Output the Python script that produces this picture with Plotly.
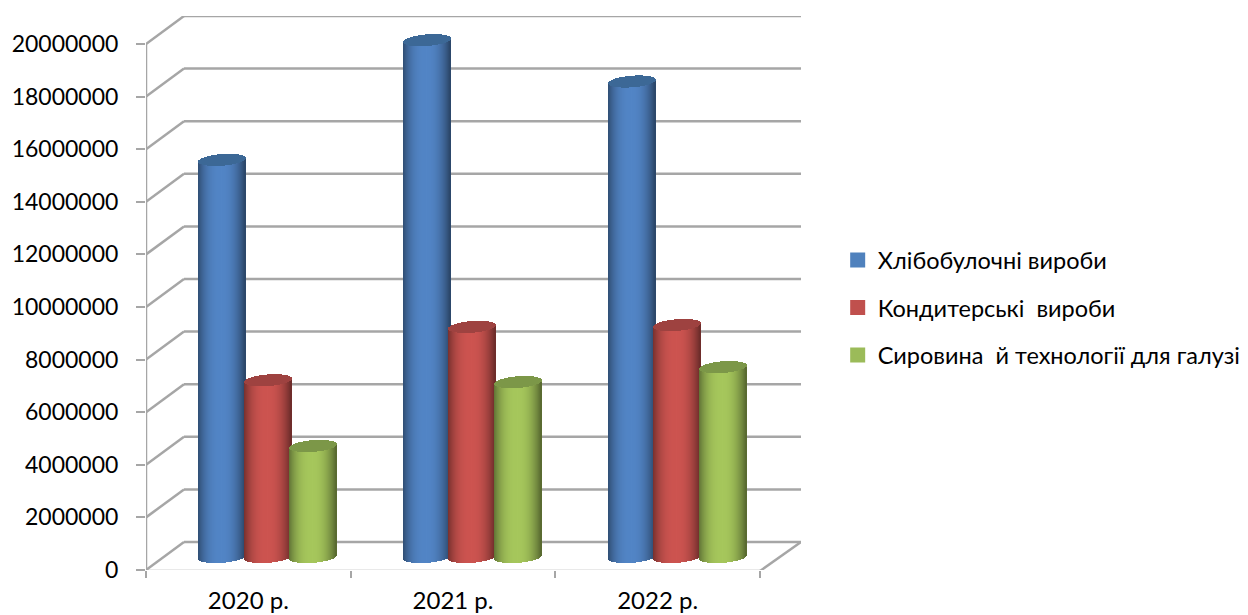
import math
import plotly.graph_objects as go

categories = ["2020 р.", "2021 р.", "2022 р."]
series_names = ["Хлібобулочні вироби", "Кондитерські  вироби", "Сировина  й технології для галузі"]
bakery = [15100000, 19650000, 18080000]
confectionery = [6720000, 8750000, 8820000]
raw_materials = [4220000, 6650000, 7220000]
y_ticks = list(range(0, 20000001, 2000000))

series_values = [bakery, confectionery, raw_materials]
swatches = ["#4f81bd", "#c0504d", "#9bbb59"]
centers = [(82, 133, 198), (205, 84, 80), (166, 199, 92)]
caps = [(60, 104, 150), (158, 66, 64), (124, 151, 72)]

# Geometry of the fake 3D box, in pixels of the 1248x615 page
LEFT, RIGHT, TOP, BOTTOM = 146, 801, 16, 570
PX_PER_CAT = 204.67
PX_PER_UNIT = 526 / 20000000
DX = 38 / PX_PER_CAT          # depth offset in x units
DY = 28 / PX_PER_UNIT         # depth offset in y units
dy = 1 / PX_PER_UNIT
dx = 1 / PX_PER_CAT
X_MAX = (RIGHT - LEFT) / PX_PER_CAT
Y_MAX = (BOTTOM - TOP) / PX_PER_UNIT

GRID = "#a6a6a6"
fig = go.Figure()
N = 47
RAD = 23.5
SHIFT = 0.2585
STEP = 0.2225
BASE = 13 * dy
ELL = 5.8 * dy
TILT = 1.8 * dy


def shade(rgb, u):
    k = 1 - 0.42 * abs(u) ** 2.6 if u < 0 else 1 - 0.48 * abs(u) ** 2.2
    return "rgb(%d,%d,%d)" % tuple(int(c * k) for c in rgb)


for s, vals in enumerate(series_values):
    xs, ys, bases, cols = [], [], [], []
    xc, yc, bc, cc = [], [], [], []
    for k, v in enumerate(vals):
        cx = k + SHIFT + RAD * dx + s * STEP
        for i in range(N):
            u = -1 + (2 * i + 1) / N
            arc = ELL * math.sqrt(1 - u * u)
            lift = TILT * u
            low0 = BASE + lift - arc
            low1 = BASE + v + lift - arc
            up1 = BASE + v + lift + arc
            x = cx + u * RAD * dx
            xs.append(x); bases.append(low0); ys.append(low1 - low0); cols.append(shade(centers[s], u))
            xc.append(x); bc.append(low1); yc.append(up1 - low1)
            cc.append("rgb(%d,%d,%d)" % caps[s])
    w = 1.5 * dx
    fig.add_trace(go.Bar(x=xs, y=ys, base=bases, width=w, showlegend=False, hoverinfo="skip",
                         marker=dict(color=cols, line=dict(width=0))))
    fig.add_trace(go.Bar(x=xc, y=yc, base=bc, width=w, showlegend=False, hoverinfo="skip",
                         marker=dict(color=cc, line=dict(width=0))))

for name, col in zip(series_names, swatches):
    fig.add_trace(go.Scatter(x=[None], y=[None], mode="markers", name=name, legendgroup=name,
                             marker=dict(symbol="square", size=15, color=col)))

shapes = []


def seg(x0, y0, x1, y1):
    shapes.append(dict(type="line", xref="x", yref="y", x0=x0, y0=y0, x1=x1, y1=y1,
                       layer="below", line=dict(color=GRID, width=2.5)))


for t in y_ticks:
    seg(0, t, DX, t + DY)
    seg(DX, t + DY, X_MAX, t + DY)
seg(0, 0, 0, y_ticks[-1])
seg(0, -1 * dy, 3, -1 * dy)
seg(3, -1 * dy, X_MAX, DY)

fig.update_layout(
    width=1248, height=615, autosize=False,
    margin=dict(l=LEFT, r=1248 - RIGHT, t=TOP, b=615 - BOTTOM, pad=0, autoexpand=False),
    paper_bgcolor="white", plot_bgcolor="white",
    barmode="overlay", bargap=0,
    shapes=shapes,
    font=dict(family="Lato, 'Noto Sans', sans-serif", size=24, color="#000000"),
    xaxis=dict(range=[0, X_MAX], tickvals=[0.5, 1.5, 2.5], ticktext=categories, ticks="",
               showgrid=False, zeroline=False, showline=False, ticklabelstandoff=14,
               minor=dict(tickmode="array", tickvals=[0, 1, 2, 3], ticks="outside", ticklen=7,
                          tickwidth=2, tickcolor=GRID, showgrid=False)),
    yaxis=dict(range=[0, Y_MAX], tickvals=y_ticks, ticktext=[str(t) for t in y_ticks], ticks="outside",
               ticklen=9, tickwidth=2, tickcolor=GRID, showgrid=False, zeroline=False, showline=False,
               ticklabelstandoff=13, tickfont=dict(size=23)),
    legend=dict(x=1.056, y=0.599, xanchor="left", yanchor="top", tracegroupgap=14, itemwidth=30,
                bgcolor="rgba(0,0,0,0)", font=dict(size=23.5)),
)

fig.write_html("out.html", config=dict(displayModeBar=False), post_script="document.body.style.margin='0';")
